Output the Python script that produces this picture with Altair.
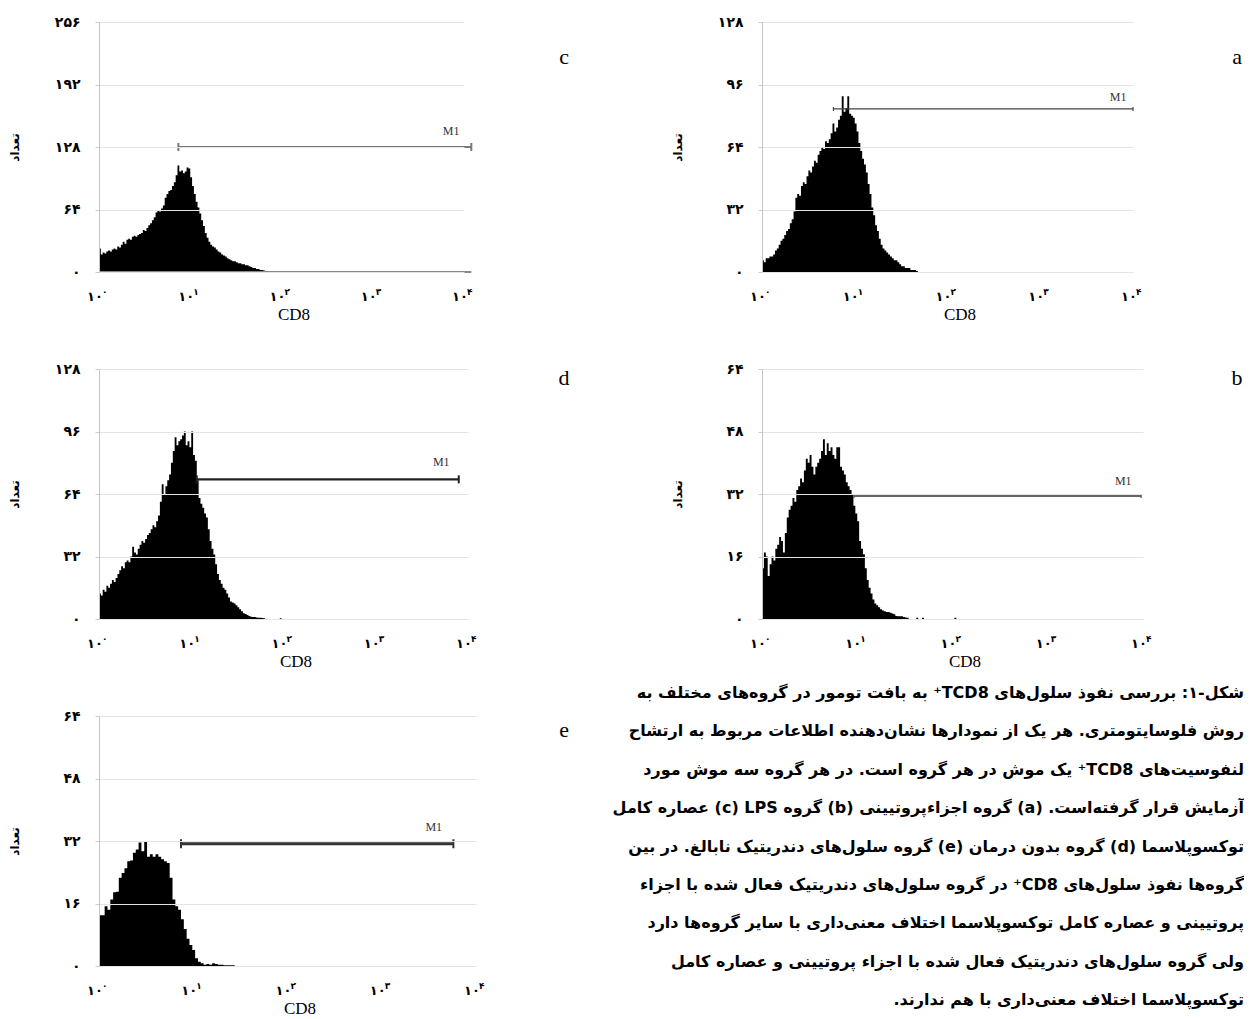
import altair as alt
import pandas as pd

FA = str.maketrans("0123456789", "۰۱۲۳۴۵۶۷۸۹")
FA_FONT = "DejaVu Sans"
SERIF = "Liberation Serif"

# ---------------- data ----------------
# histogram counts per channel; channels are equal-width bins in log10(CD8) starting at 10^0
bin_width_log = {"a": 0.02, "b": 0.02, "c": 0.02, "d": 0.02, "e": 0.03}

a_counts = [6, 5, 7, 7, 8, 8, 9, 11, 12, 14,
            16, 17, 19, 21, 22, 25, 27, 31, 38, 40,
            39, 44, 46, 45, 49, 52, 51, 54, 57, 56,
            60, 62, 64, 63, 67, 66, 68, 71, 76, 72,
            74, 78, 80, 90, 82, 84, 90, 81, 80, 79,
            76, 72, 66, 62, 58, 55, 51, 45, 40, 33,
            29, 24, 21, 17, 14, 12, 11, 10, 9, 8,
            7, 6, 6, 5, 4, 3, 3, 2, 2, 2,
            1, 1, 1, 0.5]

c_counts = [24, 18, 20, 19, 21, 22, 21, 23, 24, 23,
            26, 25, 28, 31, 29, 33, 34, 33, 36, 37,
            36, 38, 39, 40, 43, 42, 45, 48, 50, 53,
            56, 61, 63, 62, 65, 68, 76, 80, 83, 84,
            88, 92, 99, 109, 103, 104, 101, 103, 107, 106,
            97, 88, 80, 72, 66, 60, 53, 47, 40, 35,
            31, 28, 26, 25, 23, 21, 20, 18, 17, 16,
            14, 13, 12, 11, 11, 10, 9, 9, 8, 8,
            7, 7, 6, 5, 4, 4, 3, 3, 2, 2,
            1.5, 1, 0.5]

d_counts = [13, 12, 15, 14, 17, 16, 18, 20, 19, 21,
            23, 25, 27, 26, 29, 30, 29, 32, 37, 34,
            33, 36, 38, 40, 39, 41, 43, 44, 46, 48,
            47, 50, 53, 60, 69, 64, 68, 71, 74, 80,
            86, 93, 89, 91, 92, 94, 96, 89, 91, 88,
            96, 84, 81, 71, 62, 59, 57, 54, 52, 46,
            40, 36, 33, 28, 23, 20, 18, 16, 15, 13,
            11, 9, 8.5, 8, 7, 6, 5, 4, 3, 2.5,
            2, 1.5, 1.2, 1, 1, 0.8, 0.7, 0.6, 0.5, 0.4,
            0, 0, 0, 0, 0, 0, 0, 0, 0.4]

b_counts = [13, 17, 16, 11, 14, 16, 15, 18, 19, 21,
            20, 17, 22, 26, 28, 29, 31, 30, 33, 34,
            36, 35, 38, 41, 40, 42, 39, 37, 39, 40,
            41, 43, 46, 42, 45, 43, 44, 42, 41, 44,
            44, 39, 38, 37, 35, 34, 33, 32, 29, 27,
            25, 20, 18, 16.6, 13, 10, 8, 6.5, 5, 4,
            3.5, 3, 2.5, 2.2, 2, 1.8, 1.8, 1.6, 1.4, 1.2,
            0.8, 0.7, 0.7, 0.7, 0.5, 0.4, 0.3, 0, 0, 0,
            0, 0.3, 0, 0, 0.3, 0, 0, 0, 0, 0,
            0, 0, 0, 0, 0, 0, 0, 0, 0, 0,
            0, 0.3]

e_counts = [13, 13, 15.3, 14.4, 17, 18.9, 19, 22.6, 23.8, 25,
            26.8, 27, 29, 29.8, 31.6, 29.4, 32, 28, 28.6, 28,
            28.6, 28, 27.3, 26.8, 26.4, 22.6, 17, 15.3, 14.4, 12,
            9.5, 7, 5.4, 4.1, 2, 1.1, 0.7, 0.3, 0.5, 0.3,
            0.7, 0.5, 0.3, 0.3, 0.2, 0.2, 0.2, 0.2]

counts = {"a": a_counts, "b": b_counts, "c": c_counts, "d": d_counts, "e": e_counts}

y_max = {"a": 128, "b": 64, "c": 256, "d": 128, "e": 64}
y_ticks = {"a": [0, 32, 64, 96, 128], "b": [0, 16, 32, 48, 64],
           "c": [0, 64, 128, 192, 256], "d": [0, 32, 64, 96, 128],
           "e": [0, 16, 32, 48, 64]}

# M1 marker (log10 positions, count level)
m1_start_log = {"a": 0.77, "b": 0.965, "c": 0.87, "d": 1.06, "e": 0.87}
m1_end_log = {"a": 4.0, "b": 3.98, "c": 4.08, "d": 3.9, "e": 3.76}
m1_level = {"a": 83.5, "b": 31.5, "c": 128, "d": 71.5, "e": 31.3}
m1_text_log = {"a": 3.93, "b": 3.88, "c": 3.95, "d": 3.8, "e": 3.64}
m1_text_level = {"a": 86, "b": 33.6, "c": 137, "d": 76.6, "e": 33.7}

x_tick_exponents = [0, 1, 2, 3, 4]
x_tick_base = "۱۰"
x_title = "CD8"
y_title = "تعداد"

caption_lines = [
    "شکل-۱: بررسی نفوذ سلول\u200cهای TCD8⁺ به بافت تومور در گروه\u200cهای مختلف به",
    "روش فلوسایتومتری. هر یک از نمودارها نشان\u200cدهنده اطلاعات مربوط به ارتشاح",
    "لنفوسیت\u200cهای TCD8⁺ یک موش در هر گروه است. در هر گروه سه موش مورد",
    "آزمایش قرار گرفته\u200cاست. (a) گروه اجزاءپروتیینی (b) گروه LPS (c) عصاره کامل",
    "توکسوپلاسما (d) گروه بدون درمان (e) گروه سلول\u200cهای دندریتیک نابالغ. در بین",
    "گروه\u200cها نفوذ سلول\u200cهای CD8⁺ در گروه سلول\u200cهای دندریتیک فعال شده با اجزاء",
    "پروتیینی و عصاره کامل توکسوپلاسما اختلاف معنی\u200cداری با سایر گروه\u200cها دارد",
    "ولی گروه سلول\u200cهای دندریتیک فعال شده با اجزاء پروتیینی و عصاره کامل",
    "توکسوپلاسما اختلاف معنی\u200cداری با هم ندارند.",
]

# ---------------- styles ----------------
W = {"a": 371, "b": 381, "c": 365, "d": 369, "e": 377}
H = 250
LETTER_POS = {"a": (475, 35), "b": (475, 9), "c": (465, 35), "d": (465, 9), "e": (465, 14)}
M1_STYLE = {  # color, stroke width, cap size, cap thickness
    "a": ("#444444", 1.2, 4, 1.2),
    "b": ("#666666", 2.0, 4, 1.5),
    "c": ("#777777", 2.0, 8, 2.0),
    "d": ("#222222", 2.2, 8, 2.0),
    "e": ("#333333", 3.0, 9, 2.0),
}


def label_expr(ticks):
    parts = [f"datum.value == {t} ? '{str(t).translate(FA)}'" for t in ticks]
    return " : ".join(parts) + " : ''"


def hist_df(vals, w):
    xs = [10 ** (i * w) for i in range(len(vals) + 1)]
    ys = list(vals) + [0]
    return pd.DataFrame({"x": xs, "y": ys})


def panel(k):
    xsc = alt.Scale(type="log", domain=[1, 10000])
    ysc = alt.Scale(domain=[0, y_max[k]], nice=False)
    width = W[k]
    x_axis = alt.Axis(
        labels=False, ticks=False, domain=False, grid=False, title=x_title,
        titleFont=SERIF, titleFontSize=17, titleFontWeight="normal",
        titleColor="black", titlePadding=34, titleX=width / 2 + 12, titleAlign="center")
    y_axis = alt.Axis(
        values=y_ticks[k], labelExpr=label_expr(y_ticks[k]), title=y_title,
        titleFont=FA_FONT, titleFontSize=12, titleFontWeight="bold",
        titleColor="black", titlePadding=28,
        labelFont=FA_FONT, labelFontSize=14, labelFontWeight="bold",
        labelColor="black", labelPadding=15, tickSize=4, tickColor="#cccccc",
        domainColor="#c4c4c4", gridColor="#e4e4e4", minExtent=50, maxExtent=50,
        zindex=1)

    def X(field="x"):
        return alt.X(f"{field}:Q", scale=xsc, axis=x_axis, title=x_title)

    def Y(field="y"):
        return alt.Y(f"{field}:Q", scale=ysc, axis=y_axis, title=y_title)

    area = alt.Chart(hist_df(counts[k], bin_width_log[k])).mark_area(
        interpolate="step-after", color="black"
    ).encode(x=X(), y=Y())

    col, sw, cap, capw = M1_STYLE[k]
    m1 = pd.DataFrame({"x": [10 ** m1_start_log[k]], "x2": [10 ** m1_end_log[k]],
                       "y": [m1_level[k]]})
    m1_rule = alt.Chart(m1).mark_rule(color=col, strokeWidth=sw).encode(
        x=X(), x2="x2:Q", y=Y())
    caps_df = pd.DataFrame({"x": [10 ** m1_start_log[k], 10 ** m1_end_log[k]],
                            "y": [m1_level[k], m1_level[k]]})
    m1_caps = alt.Chart(caps_df).mark_tick(orient="vertical", color=col, size=cap,
                                           thickness=capw, opacity=1).encode(x=X(), y=Y())
    m1_txt = alt.Chart(pd.DataFrame({"x": [10 ** m1_text_log[k]], "y": [m1_text_level[k]],
                                     "t": ["M1"]})).mark_text(
        font=SERIF, fontSize=12, color="#333333", align="right", baseline="bottom"
    ).encode(x=X(), y=Y(), text="t:N")

    xt = pd.DataFrame({"x": [10 ** e for e in x_tick_exponents],
                       "base": [x_tick_base] * len(x_tick_exponents),
                       "exp": [str(e).translate(FA) for e in x_tick_exponents]})
    base_lbl = alt.Chart(xt).mark_text(font=FA_FONT, fontSize=13, fontWeight="bold",
                                       baseline="middle", dx=-4, color="black").encode(
        x=X(), y=alt.value(H + 25), text="base:N")
    exp_lbl = alt.Chart(xt).mark_text(font=FA_FONT, fontSize=9, fontWeight="bold",
                                      align="left", baseline="middle", dx=3,
                                      color="black").encode(
        x=X(), y=alt.value(H + 20), text="exp:N")

    lx, ly = LETTER_POS[k]
    letter = alt.Chart(pd.DataFrame({"t": [k]})).mark_text(
        font=SERIF, fontSize=22, color="black", align="center", baseline="middle"
    ).encode(x=alt.value(lx), y=alt.value(ly), text="t:N")

    layers = [area]
    if k == "c":
        base_df = pd.DataFrame({"x": [1], "x2": [10 ** m1_end_log[k]], "y": [0]})
        layers.append(alt.Chart(base_df).mark_rule(color="#888888", strokeWidth=2).encode(
            x=X(), x2="x2:Q", y=Y()))
    layers += [m1_rule, m1_caps, m1_txt, base_lbl, exp_lbl, letter]
    return alt.layer(*layers).properties(width=width, height=H)


def rtl(s):
    s = s.replace("(", "\u200f(").replace(")", ")\u200f")
    return "\u202b" + s + "\u202c"


cap_df = pd.DataFrame({"line": list(range(len(caption_lines))),
                       "text": [rtl(s) for s in caption_lines]})
caption = alt.Chart(cap_df).mark_text(
    align="right", baseline="middle", font=FA_FONT, fontSize=16, fontWeight="bold",
    color="black"
).encode(
    x=alt.value(482),
    y=alt.Y("line:Q", scale=alt.Scale(domain=[0, 8], range=[-23, 284]), axis=None),
    text="text:N",
).properties(width=380, height=H)

chart = alt.concat(
    panel("c"), panel("a"), panel("d"), panel("b"), panel("e"), caption,
    columns=2, spacing={"row": 97, "column": 286}, bounds="flush",
).properties(
    padding={"left": 0, "top": 7, "right": 0, "bottom": 0},
    background="white",
).configure_view(strokeWidth=0)

chart.save("out.html", embed_options={"renderer": "svg", "actions": False})
